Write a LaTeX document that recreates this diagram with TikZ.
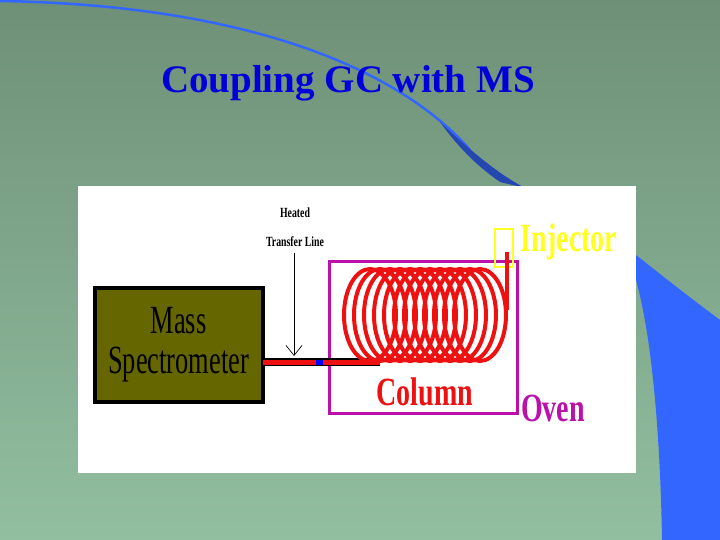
\documentclass[tikz,border=0pt]{standalone}
\usepackage{fontspec}
\setmainfont{Liberation Serif}
\usetikzlibrary{arrows.meta}
\definecolor{bgtop}{HTML}{6E9077}
\definecolor{bgbot}{HTML}{92BFA0}
\definecolor{swoosh}{HTML}{3366FF}
\definecolor{olive}{HTML}{666600}
\definecolor{ovenc}{HTML}{BB11AA}
\definecolor{tubered}{HTML}{EE1111}
\definecolor{injy}{HTML}{FFFF22}
\tikzset{lbl/.style={inner sep=0pt,font=\bfseries},
 coil/.style={draw=tubered,line width=4pt},
 big/.style={font=\bfseries\fontsize{40}{40}\selectfont\addfontfeature{FakeStretch=0.7}}}
\begin{document}
\begin{tikzpicture}[x=1pt,y=-1pt]
\useasboundingbox (0,0) rectangle (720,540);
\shade[top color=bgtop,bottom color=bgbot] (0,0) rectangle (720,540);
% swoosh
\draw[swoosh,line width=2.5pt] (0,1) .. controls (250,5) and (400,70) .. (470,150);
\fill[swoosh!70!black] (440,122) .. controls (470,150) and (495,172) .. (525,188) -- (500,182) .. controls (480,168) and (460,150) .. (440,122) -- cycle;
\fill[swoosh] (636,255) .. controls (680,290) and (700,305) .. (720,320) -- (720,540) -- (662,540) .. controls (660,420) and (650,330) .. (636,280) -- cycle;
% panel
\fill[white] (78,186) rectangle (636,473);
\node[lbl,text=blue!85!black,font=\bfseries\fontsize{39}{39}\selectfont] (title) at (348,83) {Coupling GC with MS};
% MS
\node[draw=black,line width=4pt,fill=olive,minimum width=168pt,minimum height=114pt,align=center,font=\fontsize{40}{40}\selectfont\addfontfeature{FakeStretch=0.66}] (ms) at (178.5,344.5) {Mass\\Spectrometer};
% oven
\node[draw=ovenc,line width=3pt,minimum width=188pt,minimum height=152pt] (oven) at (423,337) {};
% transfer line
\coordinate (t1) at (263,362);
\coordinate (t2) at (380,362);
\draw[black,line width=8pt] (t1) -- (t2);
\draw[tubered,line width=5pt] (t1) -- (t2);
\fill[blue] (316,359.5) rectangle (323,364.5);
% coil
\foreach \cx in {370,380,390,400,410,420,430,440,450,460,470,480}{
  \draw[coil] (\cx,315) ellipse [x radius=26,y radius=46];}
% injector
\node[draw=injy,line width=2.5pt,minimum width=18pt,minimum height=38pt] (inj) at (504,248) {};
\coordinate (i1) at (507,252);
\coordinate (i2) at (507,310);
\draw[tubered,line width=3.5pt] (i1) -- (i2);
% labels
\node[lbl,text=injy,big] (injl) at (569,242) {Injector};
\node[lbl,text=tubered,big] (coll) at (425,392) {Column};
\node[lbl,text=ovenc,big] (ovenl) at (553,408) {Oven};
\node[lbl,font=\bfseries\fontsize{14}{14}\selectfont\addfontfeature{FakeStretch=0.7}] (h1) at (295,213) {Heated};
\node[lbl,font=\bfseries\fontsize{14}{14}\selectfont\addfontfeature{FakeStretch=0.7}] (h2) at (295,242) {Transfer Line};
\coordinate (arr) at (294,356);
\draw[-{Straight Barb[length=10pt,width=16pt]},line width=0.7pt] (h2.south -| arr) ++(0,6) -- (arr);
\end{tikzpicture}
\end{document}
